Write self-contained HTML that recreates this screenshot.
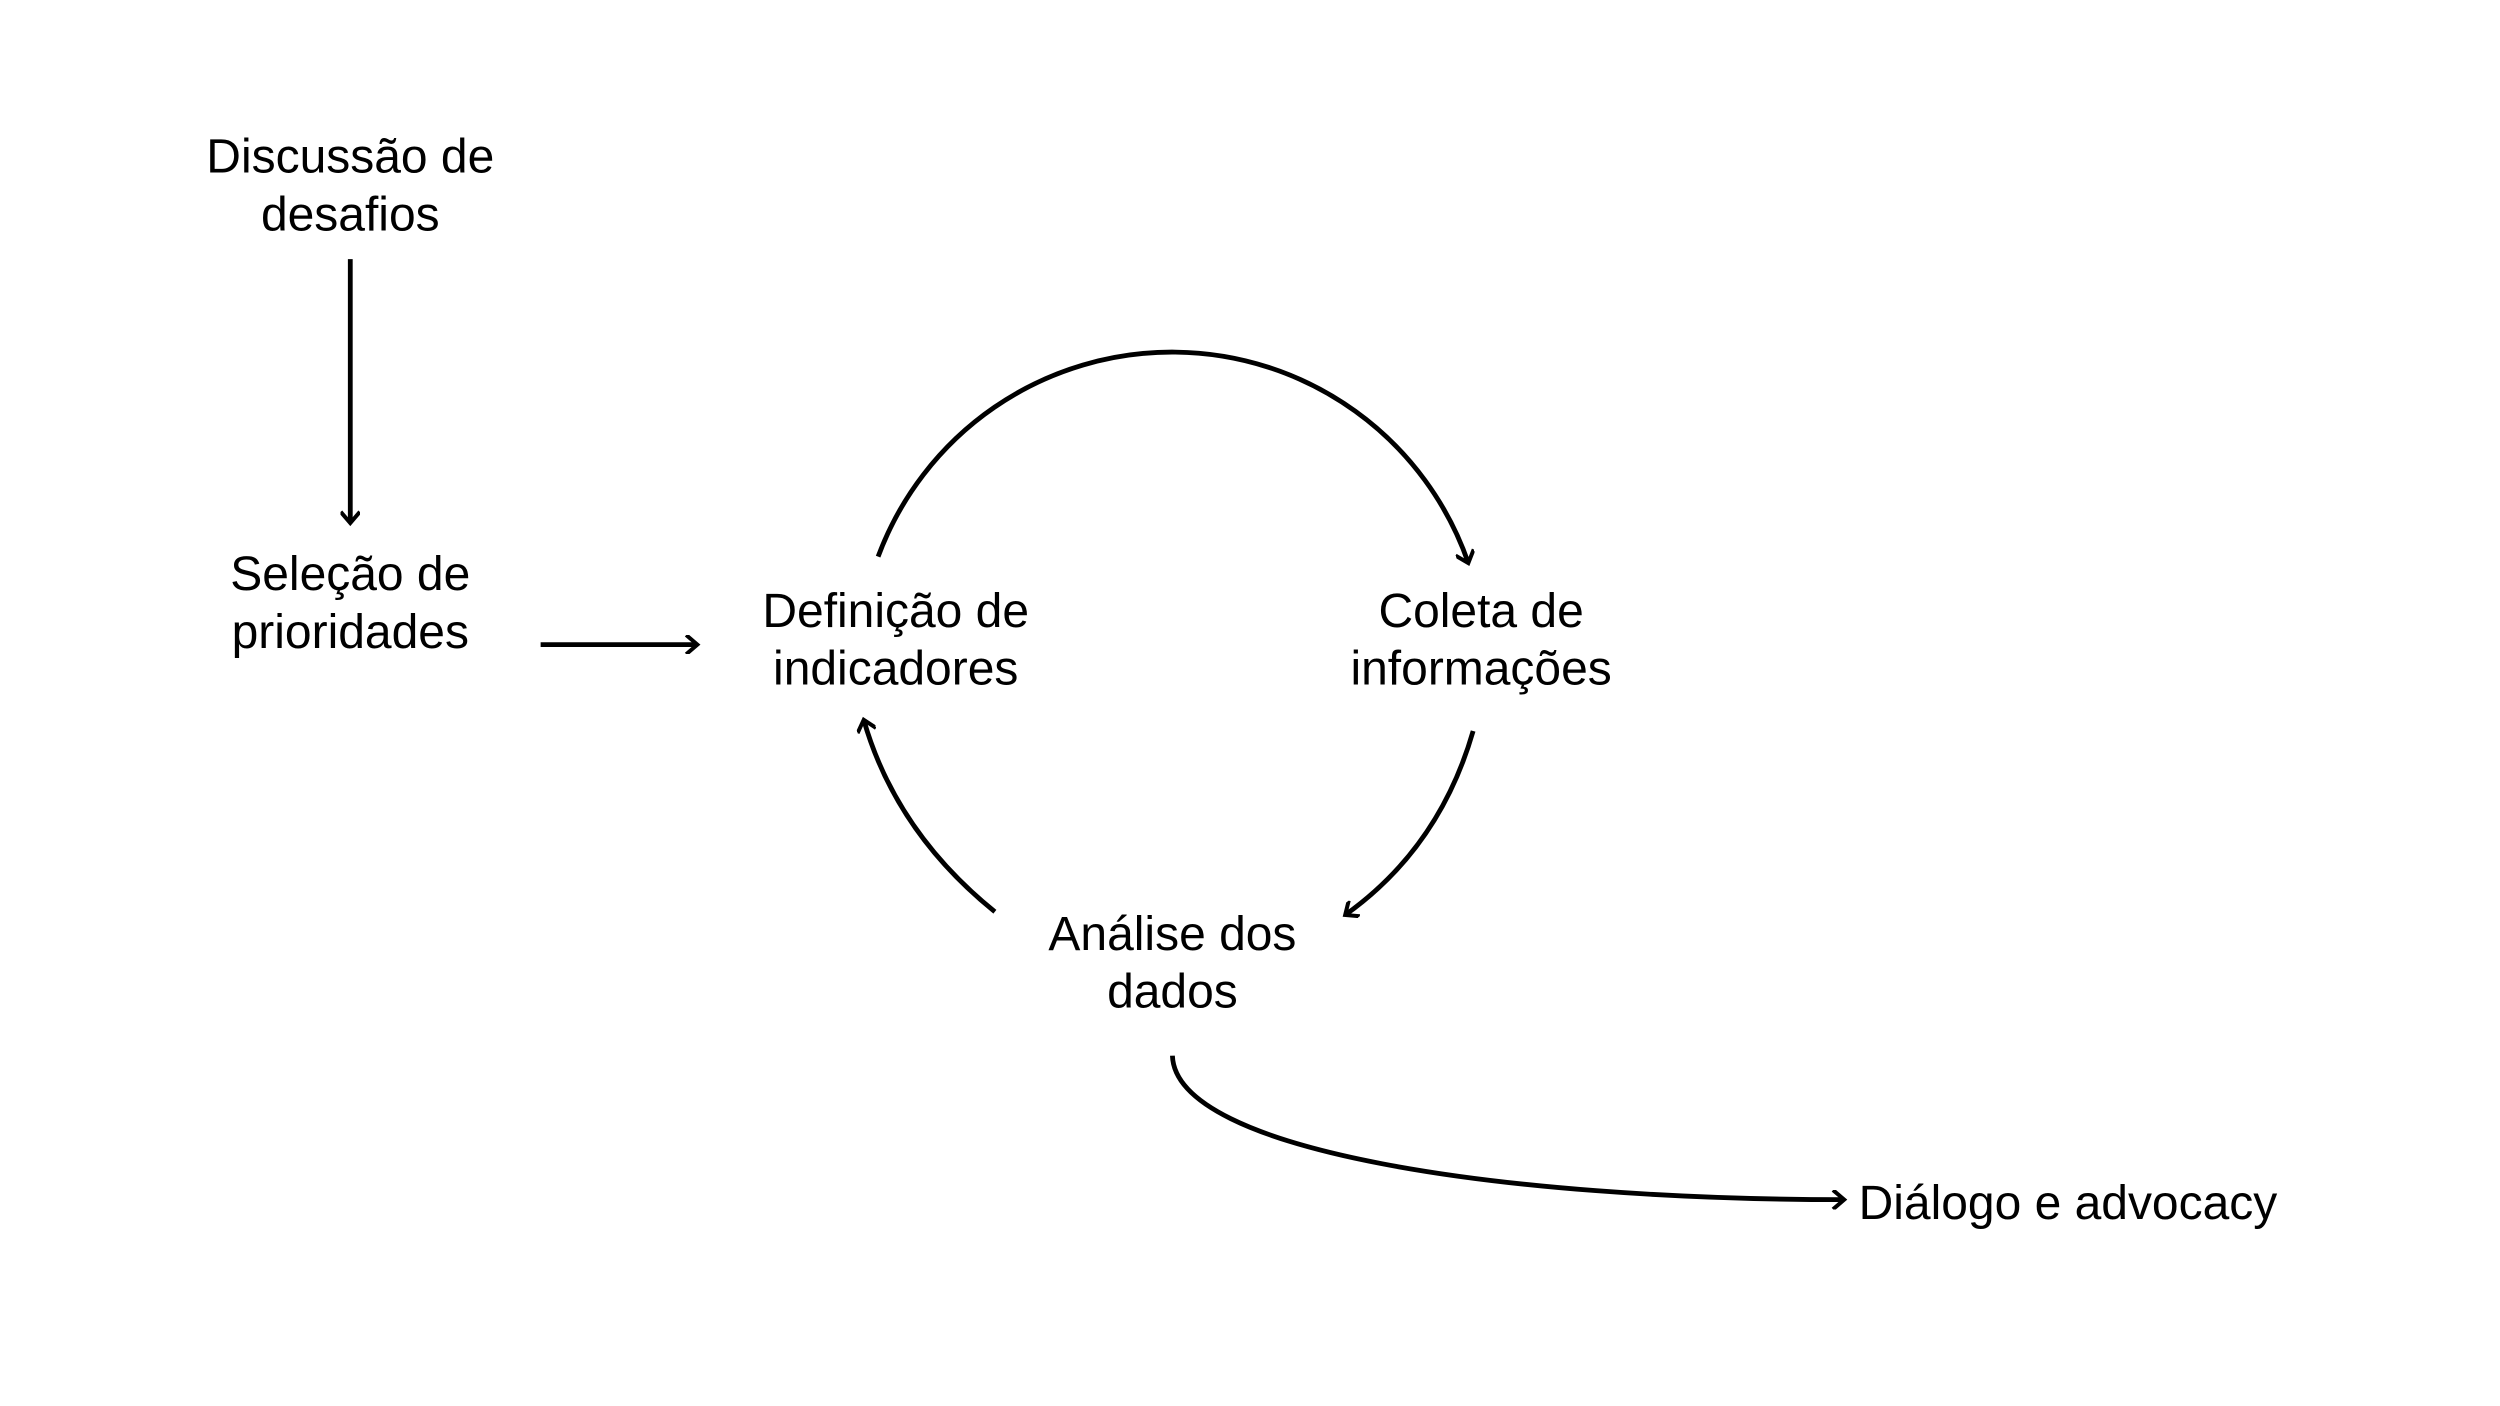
<!DOCTYPE html>
<html><head><meta charset="utf-8"><style>
html,body{margin:0;padding:0;background:#fff;}
svg{display:block;}
text{font-family:"Liberation Sans",Arial,sans-serif;font-size:30px;fill:#000;text-anchor:middle;}
</style></head><body>
<svg width="2500" height="1406" viewBox="0 0 1563 879" preserveAspectRatio="none">
<defs>
<marker id="a" markerWidth="12" markerHeight="12" refX="9" refY="6" orient="auto" markerUnits="userSpaceOnUse">
<path d="M2,0 L9,6 L2,12" fill="none" stroke="#000" stroke-width="2.5"/>
</marker>
</defs>
<g fill="none" stroke="#000" stroke-width="3">
<line x1="219" y1="162" x2="219" y2="327" marker-end="url(#a)"/>
<line x1="338" y1="403" x2="436" y2="403" marker-end="url(#a)"/>
<path d="M549,348 A196,196 0 0 1 918,352" marker-end="url(#a)"/>
<path d="M921,457 Q900,530 841,572" marker-end="url(#a)"/>
<path d="M622,570 Q560,520 540,450" marker-end="url(#a)"/>
<path d="M733,660 C735,720 940,750 1153,750" marker-end="url(#a)"/>
</g>
<text x="219" y="108">Discussão de</text>
<text x="219" y="144">desafios</text>
<text x="219" y="369">Seleção de</text>
<text x="219" y="405">prioridades</text>
<text x="560" y="392">Definição de</text>
<text x="560" y="428">indicadores</text>
<text x="926" y="392">Coleta de</text>
<text x="926" y="428">informações</text>
<text x="733" y="594">Análise dos</text>
<text x="733" y="630">dados</text>
<text x="1162" y="762" style="text-anchor:start">Diálogo e advocacy</text>
</svg>
</body></html>
